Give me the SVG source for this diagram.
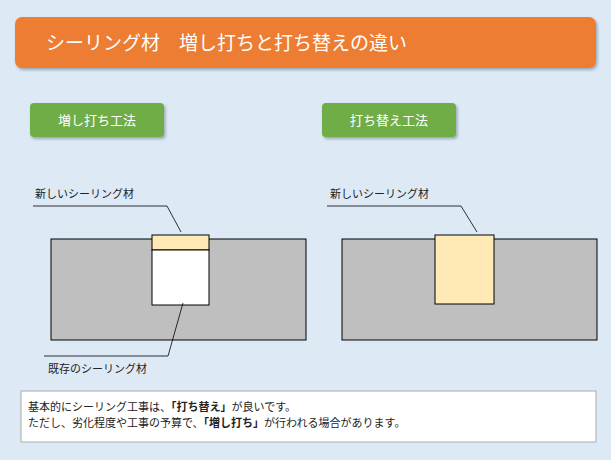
<svg xmlns="http://www.w3.org/2000/svg" width="611" height="460" viewBox="0 0 611 460">
<defs>
<filter id="sh" x="-5%" y="-10%" width="110%" height="130%"><feDropShadow dx="1.5" dy="2" stdDeviation="1.5" flood-color="#6b7a8a" flood-opacity="0.6"/></filter>
</defs>
<style>
text{font-family:"Noto Sans CJK JP",sans-serif}
.lbl{font-size:11px;fill:#222}
.btn{fill:#70ad47}
.bt{font-size:13px;fill:#fff}
.wall{fill:#bfbfbf;stroke:#000;stroke-width:1}
.ln{fill:none;stroke:#000;stroke-width:0.8}
</style>
<rect width="611" height="460" fill="#ddeaf6"/>
<g id="title"><rect x="15" y="17" width="581" height="51" rx="7" fill="#ed7d31" filter="url(#sh)"/>
<text x="46" y="50" font-size="19" fill="#fff">シーリング材　増し打ちと打ち替えの違い</text></g>
<g id="btn1"><rect class="btn" x="30" y="103" width="134" height="34" rx="4" filter="url(#sh)"/><text class="bt" x="97" y="125" text-anchor="middle">増し打ち工法</text></g>
<g id="btn2"><rect class="btn" x="322" y="103" width="134" height="34" rx="4" filter="url(#sh)"/><text class="bt" x="389" y="125" text-anchor="middle">打ち替え工法</text></g>
<g id="left"><rect class="wall" x="51" y="239" width="255" height="101"/>
<rect x="152" y="235" width="57" height="15" fill="#ffeab5" stroke="#000"/>
<rect x="152" y="250" width="57" height="55" fill="#fff" stroke="#000"/></g>
<g id="right"><rect class="wall" x="342" y="239" width="255" height="101"/>
<rect x="435" y="235" width="59" height="69" fill="#ffeab5" stroke="#000"/></g>
<g id="connectors">
<polyline class="ln" points="33,206 167,206 181,232"/>
<polyline class="ln" points="183,303 168,356 44,356"/>
<polyline class="ln" points="327,206 461,206 477,232"/>
</g>
<g id="labels">
<text class="lbl" x="35" y="198">新しいシーリング材</text>
<text class="lbl" x="48" y="373">既存のシーリング材</text>
<text class="lbl" x="330" y="198">新しいシーリング材</text>
</g>
<g id="note"><rect x="21" y="391" width="575" height="51" fill="#fff" stroke="#aaa"/>
<text class="lbl" x="28" y="411">基本的にシーリング工事は、<tspan font-weight="bold">「打ち替え」</tspan>が良いです。</text>
<text class="lbl" x="28" y="427">ただし、劣化程度や工事の予算で、<tspan font-weight="bold">「増し打ち」</tspan>が行われる場合があります。</text></g>
</svg>
